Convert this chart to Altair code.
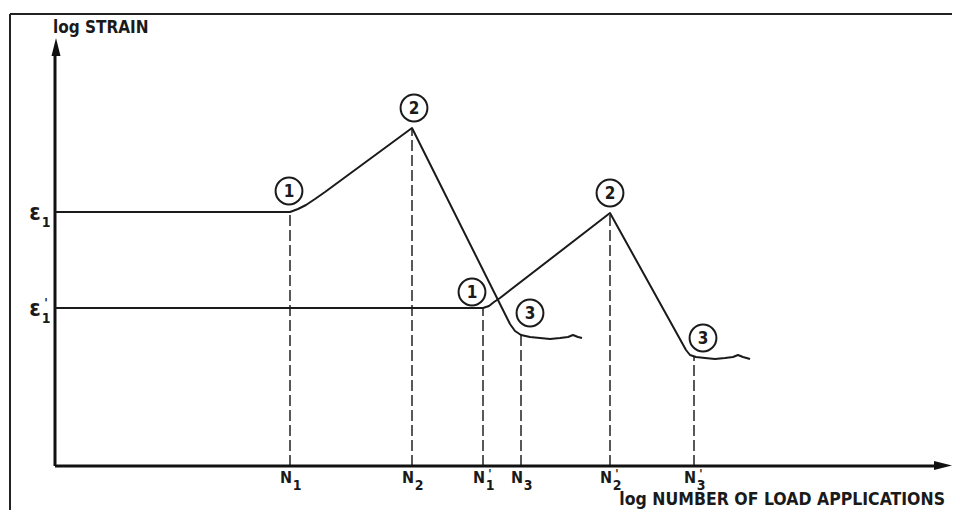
import altair as alt
import pandas as pd

# ---------------- data (schematic units: x = log N, y = log strain) ----------------
# first load level (strain eps1)
curve1_x = [0, 235, 243, 251, 260, 270, 357, 455, 460, 466, 475, 485, 495, 505, 513, 518, 523, 527]
curve1_y = [254, 254, 257, 261, 267, 274, 338, 142, 135, 131, 129, 128, 127, 128, 129, 131, 129, 128]
# second load level (strain eps1')
curve2_x = [0, 428, 434, 439, 445, 555, 631, 635, 641, 650, 660, 670, 678, 683, 688, 695]
curve2_y = [158, 158, 160, 164, 168, 253, 116, 111, 109, 108, 107, 108, 109, 111, 109, 107]

# characteristic points on the log N axis
tick_x = [235, 357, 428, 466, 555, 639]
tick_top = [254, 338, 158, 131, 253, 109]
tick_sub = ["1", "2", "1", "3", "2", "3"]
tick_prime = [False, False, True, False, True, True]

# strain levels
eps_y = [254, 158]
eps_prime = [False, True]

# circled stage markers
stage_x = [234, 359, 417, 475, 555, 648]
stage_y = [275, 358, 174, 153, 273, 128]
stage_label = ["1", "2", "1", "3", "2", "3"]

y_title = "log STRAIN"
x_title = "log NUMBER OF LOAD APPLICATIONS"

# ---------------- chart ----------------
W, H = 944, 502
FONT = "Liberation Sans Narrow, DejaVu Sans Condensed, Liberation Sans, sans-serif"
xs = alt.Scale(domain=[-47, 897], nice=False, zero=False)
ys = alt.Scale(domain=[-44, 458], nice=False, zero=False)


def X(f):
    return alt.X(f"{f}:Q", scale=xs, axis=None)


def Y(f):
    return alt.Y(f"{f}:Q", scale=ys, axis=None)


def X2(f):
    return alt.X2(f"{f}:Q")


def Y2(f):
    return alt.Y2(f"{f}:Q")


border = pd.DataFrame({"x": [-45, -45], "x2": [-45, 897], "y": [-44, 452], "y2": [452, 452]})
border_layer = alt.Chart(border).mark_rule(color="#222", strokeWidth=2).encode(
    x=X("x"), x2=X2("x2"), y=Y("y"), y2=Y2("y2"))

axes = pd.DataFrame({"x": [0, 0], "x2": [0, 884], "y": [0, 0], "y2": [414, 0]})
axes_layer = alt.Chart(axes).mark_rule(color="#111", strokeWidth=3).encode(
    x=X("x"), x2=X2("x2"), y=Y("y"), y2=Y2("y2"))

arrow_up = alt.Chart(pd.DataFrame({"x": [1], "y": [428]})).mark_point(
    shape="M0,0L0.45,1.8L-0.45,1.8Z", size=400, filled=True, color="#111", opacity=1
).encode(x=X("x"), y=Y("y"))
arrow_right = alt.Chart(pd.DataFrame({"x": [897], "y": [0.5]})).mark_point(
    shape="M0,0L-1.8,-0.45L-1.8,0.45Z", size=400, filled=True, color="#111", opacity=1
).encode(x=X("x"), y=Y("y"))

ticks = pd.DataFrame({"x": tick_x, "top": tick_top, "zero": [0] * len(tick_x),
                      "sub": tick_sub, "prime": tick_prime})
dash_layer = alt.Chart(ticks).mark_rule(color="#222", strokeWidth=1.5, strokeDash=[11, 4]).encode(
    x=X("x"), y=Y("zero"), y2=Y2("top"))

curves = pd.concat([
    pd.DataFrame({"x": curve1_x, "y": curve1_y, "s": "1", "o": range(len(curve1_x))}),
    pd.DataFrame({"x": curve2_x, "y": curve2_y, "s": "2", "o": range(len(curve2_x))}),
])
curve_layer = alt.Chart(curves).mark_line(color="#1a1a1a", strokeWidth=2, strokeJoin="round").encode(
    x=X("x"), y=Y("y"), detail="s:N", order="o:Q")

stages = pd.DataFrame({"x": stage_x, "y": stage_y, "t": stage_label})
circle_layer = alt.Chart(stages).mark_point(
    shape="circle", size=720, filled=False, color="#1a1a1a", strokeWidth=2, opacity=1
).encode(x=X("x"), y=Y("y"))
stage_text = alt.Chart(stages).mark_text(
    font=FONT, fontSize=17, fontWeight="bold", color="#1a1a1a", baseline="middle", align="center", dy=1
).encode(x=X("x"), y=Y("y"), text="t:N")

tick_base = ticks.assign(ly=-17, t="N")
n_text = alt.Chart(tick_base).mark_text(
    font=FONT, fontSize=16, fontWeight="bold", color="#1a1a1a", baseline="alphabetic", align="center", dx=-4
).encode(x=X("x"), y=Y("ly"), text="t:N")
sub_text = alt.Chart(ticks.assign(ly=-24)).mark_text(
    font=FONT, fontSize=14, fontWeight="bold", color="#1a1a1a", baseline="alphabetic", align="center", dx=7
).encode(x=X("x"), y=Y("ly"), text="sub:N")
prime_text = alt.Chart(ticks[ticks["prime"]].assign(ly=-12, t="'")).mark_text(
    font=FONT, fontSize=12, fontWeight="bold", color="#1a1a1a", baseline="alphabetic", align="center", dx=7
).encode(x=X("x"), y=Y("ly"), text="t:N")

eps = pd.DataFrame({"y": eps_y, "prime": eps_prime})
eps_text = alt.Chart(eps.assign(x=-20, t="ε")).mark_text(
    font=FONT, fontSize=23, fontWeight="bold", color="#1a1a1a", baseline="alphabetic", align="center", dy=8
).encode(x=X("x"), y=Y("y"), text="t:N")
eps_sub = alt.Chart(eps.assign(x=-9, t="1")).mark_text(
    font=FONT, fontSize=14, fontWeight="bold", color="#1a1a1a", baseline="alphabetic", align="center", dy=15
).encode(x=X("x"), y=Y("y"), text="t:N")
eps_prime_text = alt.Chart(eps[eps["prime"]].assign(x=-9, t="'")).mark_text(
    font=FONT, fontSize=13, fontWeight="bold", color="#1a1a1a", baseline="alphabetic", align="center", dy=-1
).encode(x=X("x"), y=Y("y"), text="t:N")

titles = pd.DataFrame({"x": [-2, 890], "y": [433, -39], "t": [y_title, x_title]})
ytitle = alt.Chart(titles.iloc[[0]]).mark_text(
    font=FONT, fontSize=17, fontWeight="bold", color="#1a1a1a", baseline="alphabetic", align="left"
).encode(x=X("x"), y=Y("y"), text="t:N")
xtitle = alt.Chart(titles.iloc[[1]]).mark_text(
    font=FONT, fontSize=17.5, fontWeight="bold", color="#1a1a1a", baseline="alphabetic", align="right"
).encode(x=X("x"), y=Y("y"), text="t:N")

chart = alt.layer(
    border_layer, dash_layer, axes_layer, arrow_up, arrow_right, curve_layer,
    circle_layer, stage_text, n_text, sub_text, prime_text,
    eps_text, eps_sub, eps_prime_text, ytitle, xtitle,
).properties(width=W, height=H, autosize="none", padding=0).configure_view(stroke=None)

chart.save("out.html", embed_options={"renderer": "svg", "actions": False})
